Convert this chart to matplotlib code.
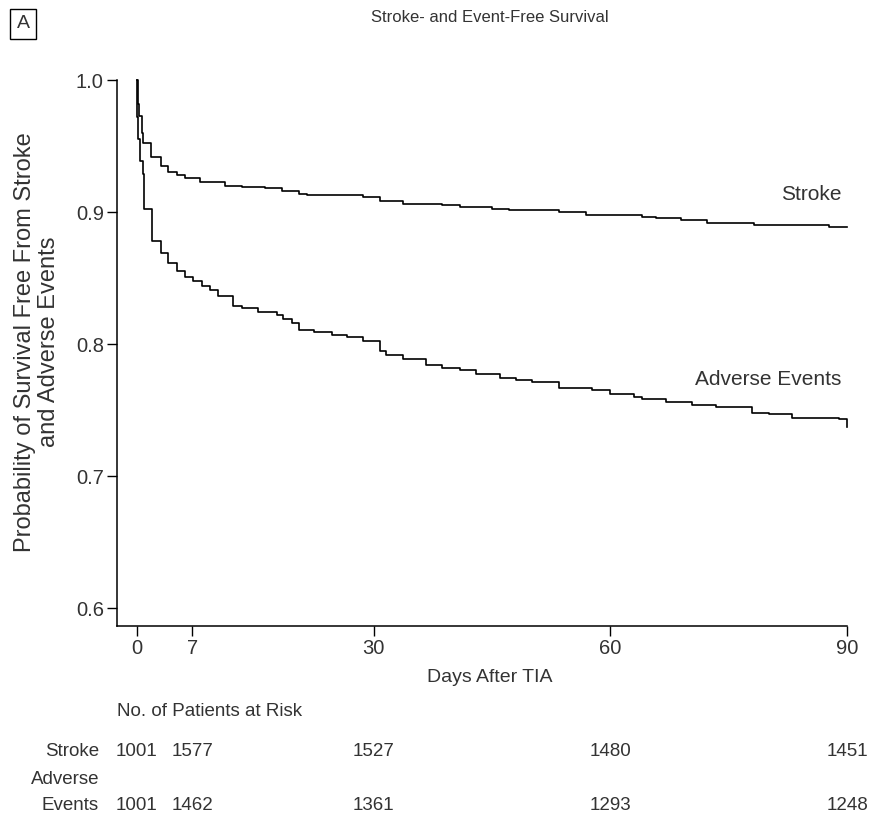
import matplotlib.pyplot as plt

# Kaplan-Meier step points (day, survival)
stroke_days = [0, 0.1, 0.3, 0.6, 0.8, 1.8, 3.0, 3.9, 5.1, 6.1, 8.0, 11.1, 13.3,
               16.2, 18.4, 20.6, 21.6, 28.6, 30.8, 33.7, 38.7, 40.9, 45.0, 47.2,
               53.5, 56.9, 64.0, 65.8, 69.0, 72.2, 75.3, 78.2, 87.7, 90.0]
stroke_surv = [1.0, 0.982, 0.973, 0.960, 0.952, 0.942, 0.935, 0.930, 0.928,
               0.926, 0.923, 0.920, 0.919, 0.918, 0.916, 0.914, 0.913, 0.911,
               0.908, 0.906, 0.905, 0.904, 0.902, 0.9015, 0.900, 0.898, 0.896,
               0.8955, 0.894, 0.892, 0.8917, 0.890, 0.8886, 0.8886]

adverse_days = [0, 0.05, 0.1, 0.4, 0.8, 0.9, 1.9, 3.0, 3.9, 5.1, 6.1, 7.1, 8.2,
                9.2, 10.3, 12.2, 13.3, 15.3, 17.7, 18.5, 19.6, 20.6, 22.5, 24.7,
                26.6, 28.6, 30.8, 31.6, 33.7, 36.7, 38.7, 40.9, 43.0, 46.0, 48.1,
                50.1, 53.5, 57.7, 59.9, 63.0, 64.0, 67.1, 70.4, 73.4, 78.0, 80.1,
                83.0, 89.0, 90.0]
adverse_surv = [1.0, 0.972, 0.955, 0.939, 0.929, 0.902, 0.878, 0.869, 0.861,
                0.855, 0.851, 0.848, 0.844, 0.841, 0.836, 0.829, 0.827, 0.824,
                0.822, 0.819, 0.816, 0.811, 0.809, 0.807, 0.805, 0.802, 0.795,
                0.792, 0.789, 0.784, 0.782, 0.780, 0.777, 0.774, 0.773, 0.771,
                0.767, 0.765, 0.762, 0.760, 0.758, 0.756, 0.754, 0.752, 0.748,
                0.747, 0.744, 0.743, 0.737]

x_ticks = [0, 7, 30, 60, 90]
y_ticks = [0.6, 0.7, 0.8, 0.9, 1.0]
risk_stroke = [1001, 1577, 1527, 1480, 1451]
risk_adverse = [1001, 1462, 1361, 1293, 1248]

plt.rcParams['font.family'] = ['Liberation Sans', 'DejaVu Sans']
TXT = '#333333'

W, H = 872, 819
fig = plt.figure(figsize=(W / 100, H / 100), dpi=100)
ax = fig.add_axes([117 / W, 1 - 626 / H, (847 - 117) / W, (626 - 80) / H])

ax.step(stroke_days, stroke_surv, where='post', color='black', lw=1.2, clip_on=False)
ax.step(adverse_days, adverse_surv, where='post', color='black', lw=1.2, clip_on=False)

ax.set_xlim(-2.53, 90)
ax.set_ylim(0.5864, 1.0)
ax.set_xticks(x_ticks)
ax.set_yticks(y_ticks)
ax.set_yticklabels([f"{v:.1f}" for v in y_ticks])
for s in ['top', 'right']:
    ax.spines[s].set_visible(False)
for s in ['left', 'bottom']:
    ax.spines[s].set_linewidth(1.1)
ax.tick_params(direction='out', length=7.5, width=1, labelsize=14.5, pad=2,
               labelcolor=TXT)

ax.text(89.3, 0.9135, "Stroke", ha='right', va='center', fontsize=15, color=TXT)
ax.text(89.3, 0.773, "Adverse Events", ha='right', va='center', fontsize=15, color=TXT)

fig.text(490 / W, 1 - 18 / H, "Stroke- and Event-Free Survival", ha='center', va='center',
         fontsize=12, color=TXT)
fig.text(23 / W, 1 - 24 / H, "A", ha='center', va='center', fontsize=14, color=TXT,
         bbox=dict(boxstyle='square,pad=0.32', fc='white', ec='black', lw=1))
fig.text(37 / W, 1 - 342 / H,
         "Probability of Survival Free From Stroke\nand Adverse Events",
         rotation=90, ha='center', va='center', fontsize=17, color=TXT,
         multialignment='center', linespacing=1.1)
fig.text(490 / W, 1 - 677 / H, "Days After TIA", ha='center', va='center',
         fontsize=14, color=TXT)

# at-risk table
fig.text(117 / W, 1 - 711 / H, "No. of Patients at Risk", ha='left', va='center',
         fontsize=13.5, color=TXT)
tr = ax.get_xaxis_transform()
fig.text(99 / W, 1 - 751 / H, "Stroke", ha='right', va='center', fontsize=13.5, color=TXT)
fig.text(99 / W, 1 - 780 / H, "Adverse", ha='right', va='center', fontsize=13.5, color=TXT)
fig.text(99 / W, 1 - 806 / H, "Events", ha='right', va='center', fontsize=13.5, color=TXT)
y_row1 = (626 - 751) / (626 - 80)
y_row2 = (626 - 806) / (626 - 80)
for d, a, b in zip(x_ticks, risk_stroke, risk_adverse):
    ax.text(d, y_row1, str(a), transform=tr, ha='center', va='center', fontsize=13.5,
            color=TXT, clip_on=False)
    ax.text(d, y_row2, str(b), transform=tr, ha='center', va='center', fontsize=13.5,
            color=TXT, clip_on=False)

fig.savefig("out.png", dpi=100, facecolor='white')
